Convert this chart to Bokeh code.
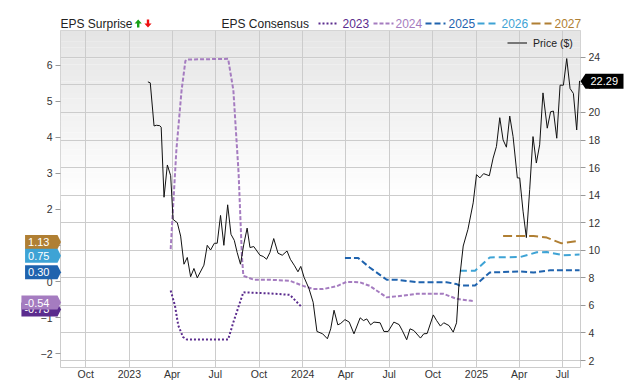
import pandas as pd
from bokeh.plotting import figure
from bokeh.models import Range1d, LinearAxis, FixedTicker, BoxAnnotation
from bokeh.core.properties import value
from bokeh.embed import file_html
from bokeh.resources import INLINE

# ---------------- data ----------------
price_dates = ["2023-02-09", "2023-02-14", "2023-02-22", "2023-02-27", "2023-03-06", "2023-03-09",
               "2023-03-15", "2023-03-22", "2023-03-29", "2023-04-03", "2023-04-12", "2023-04-19",
               "2023-04-26", "2023-05-03", "2023-05-10", "2023-05-17", "2023-05-24", "2023-06-07",
               "2023-06-14", "2023-06-21", "2023-06-29", "2023-07-05", "2023-07-12", "2023-07-19",
               "2023-07-27", "2023-08-03", "2023-08-10", "2023-08-16", "2023-08-23", "2023-08-30",
               "2023-09-06", "2023-09-12", "2023-09-20", "2023-10-03", "2023-10-10", "2023-10-17",
               "2023-10-24", "2023-11-01", "2023-11-10", "2023-11-19", "2023-11-29", "2023-12-06",
               "2023-12-15", "2023-12-22", "2023-12-28", "2024-01-04", "2024-01-14", "2024-01-23",
               "2024-01-31", "2024-02-12", "2024-02-22", "2024-02-29", "2024-03-07", "2024-03-15",
               "2024-03-21", "2024-03-30", "2024-04-08", "2024-04-18", "2024-05-01", "2024-05-08",
               "2024-05-15", "2024-05-23", "2024-05-30", "2024-06-12", "2024-06-20", "2024-06-29",
               "2024-07-11", "2024-07-22", "2024-07-29", "2024-08-07", "2024-08-14", "2024-08-22",
               "2024-09-05", "2024-09-12", "2024-09-19", "2024-10-02", "2024-10-09", "2024-10-17",
               "2024-10-24", "2024-11-04", "2024-11-13", "2024-11-20", "2024-11-25", "2024-12-04",
               "2024-12-14", "2024-12-25", "2025-01-01", "2025-01-08", "2025-01-16", "2025-01-28",
               "2025-02-05", "2025-02-12", "2025-02-19", "2025-02-26", "2025-03-05", "2025-03-12",
               "2025-03-19", "2025-03-28", "2025-04-02", "2025-04-09", "2025-04-16", "2025-04-23",
               "2025-04-30", "2025-05-07", "2025-05-14", "2025-05-21", "2025-05-30", "2025-06-06",
               "2025-06-12", "2025-06-19", "2025-06-26", "2025-07-03", "2025-07-10", "2025-07-17",
               "2025-07-24", "2025-07-31", "2025-08-06"]
price_values = [22.22, 22.15, 19.02, 19.07, 19.04, 18.93,
                13.85, 16.19, 15.41, 12.24, 12.00, 11.03,
                8.99, 9.48, 8.08, 8.68, 8.00, 8.92,
                10.36, 10.02, 10.51, 10.51, 12.53, 10.36,
                13.30, 11.16, 10.72, 9.84, 8.99, 10.44,
                11.61, 10.20, 10.27, 9.64, 9.55, 9.35,
                9.84, 10.85, 9.79, 9.64, 9.95, 9.35,
                8.87, 8.44, 8.83, 8.03, 7.24, 6.23,
                4.11, 3.94, 3.58, 4.30, 5.65, 4.59,
                4.69, 4.97, 4.79, 3.94, 5.10, 4.90,
                5.02, 4.59, 4.79, 4.74, 4.11, 4.11,
                4.79, 4.61, 4.16, 3.51, 4.30, 4.18,
                3.63, 3.94, 3.96, 5.31, 4.90, 4.50,
                4.74, 4.54, 4.06, 4.74, 7.50, 10.31,
                11.52, 13.44, 15.49, 15.25, 15.56, 15.41,
                16.69, 17.53, 19.62, 18.01, 17.48, 19.74,
                18.25, 15.25, 15.25, 12.84, 10.92, 14.40,
                18.25, 16.33, 17.65, 21.42, 18.86, 20.05,
                20.10, 18.13, 21.98, 21.98, 23.91, 21.74,
                21.38, 18.73, 22.29]

eps2023_dates = ["2023-03-29", "2023-04-07", "2023-04-14", "2023-04-24", "2023-05-02", "2023-07-28",
                 "2023-08-08", "2023-08-29", "2023-10-24", "2023-12-05", "2023-12-30"]
eps2023_values = [-0.25, -0.67, -1.22, -1.54, -1.61, -1.61, -1.13, -0.30, -0.33, -0.37, -0.71]

eps2024_dates = ["2023-03-29", "2023-04-10", "2023-04-21", "2023-04-29", "2023-05-02", "2023-07-28",
                 "2023-08-08", "2023-08-19", "2023-08-26", "2023-08-29", "2023-09-20", "2023-10-24",
                 "2023-12-05", "2024-01-02", "2024-01-23", "2024-02-13", "2024-03-13", "2024-04-02",
                 "2024-04-30", "2024-05-21", "2024-06-26", "2024-07-31", "2024-08-28", "2024-10-23",
                 "2024-11-20", "2024-12-18", "2024-12-25"]
eps2024_values = [0.90, 3.65, 5.31, 6.12, 6.16, 6.18,
                  5.31, 3.01, 0.71, 0.16, 0.05, 0.05,
                  0.02, -0.12, -0.21, -0.21, -0.13, -0.01,
                  -0.02, -0.12, -0.44, -0.39, -0.34, -0.34,
                  -0.48, -0.53, -0.54]

eps2025_dates = ["2024-03-30", "2024-04-27", "2024-05-21", "2024-06-26", "2024-07-17", "2024-08-28",
                 "2024-10-30", "2024-11-20", "2024-11-27", "2024-12-29", "2025-01-29", "2025-04-03",
                 "2025-05-01", "2025-06-05", "2025-08-06"]
eps2025_values = [0.65, 0.65, 0.39, 0.05, 0.05, -0.02, -0.02, -0.07, -0.11, -0.11, 0.25, 0.28,
                  0.25, 0.31, 0.31]

eps2026_dates = ["2024-11-27", "2024-12-29", "2025-01-29", "2025-04-03", "2025-05-08", "2025-05-29",
                 "2025-07-03", "2025-08-06"]
eps2026_values = [0.30, 0.30, 0.67, 0.68, 0.81, 0.82, 0.73, 0.75]

eps2027_dates = ["2025-02-26", "2025-05-01", "2025-05-29", "2025-06-29", "2025-08-06"]
eps2027_values = [1.26, 1.26, 1.22, 1.06, 1.13]

series_years = ["2023", "2024", "2025", "2026", "2027"]
latest_eps = [-0.73, -0.54, 0.30, 0.75, 1.13]
latest_eps_labels = ["-0.73", "-0.54", "0.30", "0.75", "1.13"]
last_price = 22.29
last_price_label = "22.29"

x_tick_dates = ["2022-10-01", "2023-01-01", "2023-04-01", "2023-07-01", "2023-10-01", "2024-01-01",
                "2024-04-01", "2024-07-01", "2024-10-01", "2025-01-01", "2025-04-01", "2025-07-01"]
x_tick_labels = ["Oct", "2023", "Apr", "Jul", "Oct", "2024", "Apr", "Jul", "Oct", "2025", "Apr", "Jul"]
price_ticks = [2, 4, 6, 8, 10, 12, 14, 16, 18, 20, 22, 24]
eps_ticks = [-2, -1, 0, 1, 2, 3, 4, 5, 6]

# ---------------- style / geometry ----------------
FONT = "Liberation Sans"
colors = {"2023": "#5b2c8e", "2024": "#a57cc0", "2025": "#1f63ae", "2026": "#3ea3d5", "2027": "#b07f33"}
dashes = {"2023": "2 2", "2024": "4 2", "2025": "6 3", "2026": "7 4", "2027": "9 4"}
GRID = "#cccccc"

W, H = 640, 382
BL, BR, BT, BB = 60, 60, 30, 13
FRAME_W = W - BL - BR
FRAME_H = H - BT - BB

x_start = pd.Timestamp("2022-08-09")
x_end = pd.Timestamp("2025-08-08")
x0_ms = x_start.value / 1e6
x1_ms = x_end.value / 1e6
ms_per_px = (x1_ms - x0_ms) / FRAME_W
price_lo, price_hi = 1.495, 25.947
eps_lo, eps_hi = -2.386, 6.966
price_per_px = (price_hi - price_lo) / FRAME_H
eps_per_px = (eps_hi - eps_lo) / FRAME_H
PIN = {"position": "absolute", "top": "0px", "left": "0px"}

# ---------------- main chart ----------------
p = figure(width=W, height=H, x_axis_type="datetime", y_axis_location="right",
           x_range=Range1d(x_start, x_end), y_range=Range1d(price_lo, price_hi),
           toolbar_location=None, output_backend="svg", tools="",
           min_border_left=BL, min_border_right=BR, min_border_top=BT, min_border_bottom=BB)
p.extra_y_ranges = {"eps": Range1d(eps_lo, eps_hi)}
p.outline_line_color = GRID
p.background_fill_color = "white"
p.border_fill_color = "white"
p.styles = PIN

# soft vertical gradient at the top of the plot area
n_bands = 30
g_top, g_bot = price_hi, 13.6
step = (g_top - g_bot) / n_bands
for i in range(n_bands):
    shade = int(round(229 + (255 - 229) * i / (n_bands - 1)))
    col = "#%02x%02x%02x" % (shade, shade, shade)
    p.add_layout(BoxAnnotation(top=g_top - i * step + 0.01, bottom=g_top - (i + 1) * step,
                               fill_color=col, fill_alpha=1, line_color=None, level="image"))

x_ticks_ms = [pd.Timestamp(d).value / 1e6 for d in x_tick_dates]
xticker = FixedTicker(ticks=x_ticks_ms)
p.xaxis.ticker = xticker
p.xgrid.ticker = xticker
overrides = {}
for t, lab in zip(x_ticks_ms, x_tick_labels):
    overrides[int(t)] = lab
    overrides[str(int(t))] = lab
p.xaxis.major_label_overrides = overrides

pticker = FixedTicker(ticks=price_ticks)
right_axis = p.right[0]
right_axis.ticker = pticker
p.ygrid.ticker = pticker

left_axis = LinearAxis(y_range_name="eps", ticker=FixedTicker(ticks=eps_ticks))
p.add_layout(left_axis, "left")

for ax in [p.xaxis[0], right_axis, left_axis]:
    ax.axis_line_color = None
    ax.major_tick_line_color = "#999999"
    ax.minor_tick_line_color = None
    ax.major_tick_in = 0
    ax.major_label_text_font = FONT
    ax.major_label_text_font_size = "10.5px"
    ax.major_label_text_color = "#333333"
right_axis.major_tick_out = 5
right_axis.major_label_standoff = 3
left_axis.major_tick_out = 5
left_axis.major_label_standoff = 3
p.xaxis[0].major_tick_out = 0
p.xaxis[0].major_label_standoff = 0

p.grid.grid_line_color = GRID
p.grid.grid_line_width = 1

series = {
    "2023": (eps2023_dates, eps2023_values),
    "2024": (eps2024_dates, eps2024_values),
    "2025": (eps2025_dates, eps2025_values),
    "2026": (eps2026_dates, eps2026_values),
    "2027": (eps2027_dates, eps2027_values),
}
for yr in series_years:
    d, v = series[yr]
    p.line(x=pd.to_datetime(d), y=v, y_range_name="eps", line_color=colors[yr],
           line_width=2, line_dash=dashes[yr])

p.line(x=pd.to_datetime(price_dates), y=price_values, line_color="#111111", line_width=1)

# ---------------- overlay: legends and value badges (drawn over the borders) ----------------
ov = figure(width=W, height=H,
            x_range=Range1d(x0_ms - BL * ms_per_px, x1_ms + BR * ms_per_px),
            y_range=Range1d(price_lo - BB * price_per_px, price_hi + BT * price_per_px),
            x_axis_type=None, y_axis_type=None, min_border=0,
            toolbar_location=None, output_backend="svg", tools="")
ov.extra_y_ranges = {"eps": Range1d(eps_lo - BB * eps_per_px, eps_hi + BT * eps_per_px),
                     "py": Range1d(0, H)}
ov.extra_x_ranges = {"px": Range1d(0, W)}
ov.background_fill_color = None
ov.border_fill_color = None
ov.outline_line_color = None
ov.styles = PIN

# header legend row (pixel positions on the canvas, y measured from the bottom)
hy = H - 23
ov.text(x=[60, 221], y=[hy, hy], text=["EPS Surprise", "EPS Consensus"],
        x_range_name="px", y_range_name="py",
        text_font=value(FONT), text_font_size="12px", text_baseline="middle",
        text_color="#222222")
gx, rx = 137.7, 147.5
ov.patch(x=[gx - 1.2, gx - 1.2, gx - 3.6, gx, gx + 3.6, gx + 1.2, gx + 1.2],
         y=[hy - 4, hy, hy, hy + 4, hy, hy, hy - 4], x_range_name="px", y_range_name="py",
         color="#16a016", line_width=0)
ov.patch(x=[rx - 1.2, rx - 1.2, rx - 3.6, rx, rx + 3.6, rx + 1.2, rx + 1.2],
         y=[hy + 4, hy, hy, hy - 4, hy, hy, hy + 4], x_range_name="px", y_range_name="py",
         color="#ee1111", line_width=0)
leg_line_x0 = [318, 373, 425, 477, 531]
leg_text_x = [342, 395, 448, 501, 554]
for yr, lx, tx in zip(series_years, leg_line_x0, leg_text_x):
    ov.line(x=[lx, lx + 20], y=[hy, hy], x_range_name="px", y_range_name="py",
            line_color=colors[yr], line_width=2.2, line_dash=dashes[yr])
    ov.text(x=[tx], y=[hy], text=[yr], x_range_name="px", y_range_name="py",
            text_font=value(FONT), text_font_size="12px", text_baseline="middle",
            text_color=colors[yr])

# price legend inside plot, top right
ply = H - 42.5
ov.line(x=[507, 526.5], y=[ply, ply], x_range_name="px", y_range_name="py",
        line_color="#777777", line_width=2)
ov.text(x=[532.6], y=[ply], text=["Price ($)"], x_range_name="px", y_range_name="py",
        text_font=value(FONT), text_font_size="10.5px", text_baseline="middle",
        text_color="#222222")

# EPS value badges on the left
def text_w(s):
    w = 0.0
    for ch in s:
        w += 3.06 if ch == "." else (3.66 if ch == "-" else 6.12)
    return w

badge_order = [0, 1, 4, 3, 2]
for i in badge_order:
    yr = series_years[i]
    v = latest_eps[i]
    lab = latest_eps_labels[i]
    bw = text_w(lab) + 11
    h = 7 * eps_per_px
    xl = x0_ms - (3 + bw) * ms_per_px
    xr = x0_ms - 3 * ms_per_px
    ov.patch(x=[xl, xr, x0_ms + 0.5 * ms_per_px, xr, xl], y=[v + h, v + h, v, v - h, v - h],
             y_range_name="eps", fill_color=colors[yr], line_color=None)
    ov.text(x=[xl + 3 * ms_per_px], y=[v], text=[lab], y_range_name="eps",
            text_font=value(FONT), text_font_size="11px", text_color="white",
            text_baseline="middle", text_align="left")

# last price badge on the right
hp = 7.5 * price_per_px
bx0 = x1_ms + 5 * ms_per_px
bx1 = x1_ms + 43 * ms_per_px
ov.patch(x=[x1_ms, bx0, bx1, bx1, bx0],
         y=[last_price, last_price + hp, last_price + hp, last_price - hp, last_price - hp],
         fill_color="black", line_color=None)
ov.text(x=[x1_ms + 10 * ms_per_px], y=[last_price], text=[last_price_label],
        text_font=value(FONT), text_font_size="11px", text_color="white",
        text_baseline="middle", text_align="left")

open("out.html", "w").write(file_html([p, ov], INLINE))
